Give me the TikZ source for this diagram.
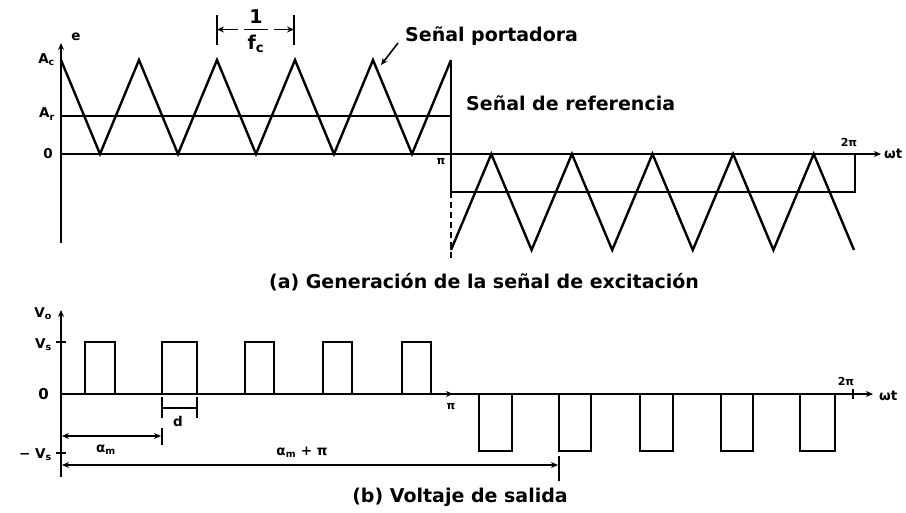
\documentclass[tikz,border=0pt]{standalone}
\usepackage{fontspec}
\setmainfont{DejaVu Sans}
\usetikzlibrary{arrows.meta}
\begin{document}
\begin{tikzpicture}[x=1pt,y=-1pt,
  wave/.style={line width=2.4pt, line join=miter},
  axisline/.style={line width=1.8pt},
  pulse/.style={line width=1.8pt, line join=miter},
  dim/.style={line width=1.6pt},
  lbl/.style={font=\bfseries\fontsize{19}{22}\selectfont, inner sep=0pt},
  sml/.style={font=\bfseries\fontsize{13.5}{16}\selectfont, inner sep=0pt},
  tiny/.style={font=\bfseries\fontsize{11}{13}\selectfont, inner sep=0pt},
  tip/.style={-{Stealth[length=7pt,width=6pt]}},
  tips/.style={{Stealth[length=7pt,width=6pt]}-{Stealth[length=7pt,width=6pt]}},
  ]
\useasboundingbox (0,0) rectangle (906,512);

% ===================== (a) top panel =====================
\coordinate (ay0) at (61,243);
\coordinate (ay1) at (61,43);
\coordinate (ax0) at (61,154);
\coordinate (ax1) at (881,154);
\draw[axisline,tip] (ay0) -- (ay1);
\draw[axisline,tip] (ax0) -- (ax1);

\node[sml] (le) at (76,37) {e};
\node[sml,anchor=east] (lac) at (55,60) {A$_{\mathbf c}$};
\node[sml,anchor=east] (lar) at (55,114) {A$_{\mathbf r}$};
\node[sml,anchor=east] (l0a) at (53,154) {0};
\node[tiny] (lpi) at (441,162) {π};
\node[tiny] (l2pi) at (849,143) {2π};
\node[sml,anchor=west] (lwt) at (884,154) {ωt};

% reference signal
\draw[axisline] (61,116) -- (451,116);
\draw[axisline] (451,192) -- (855,192) -- (855,154);

% carrier, first half
\draw[wave] (61,60)--(100,154)--(139,60)--(178,154)--(217,60)--(256,154)
  --(295,60)--(334,154)--(373,60)--(412,154)--(451,60);
% vertical at pi
\draw[axisline] (451,60) -- (451,192);
\draw[axisline,dashed,dash pattern=on 6pt off 4pt] (451,192) -- (451,258);
% carrier, second half
\draw[wave] (451,250)--(491.3,154)--(531.6,250)--(571.9,154)--(612.2,250)
  --(652.5,154)--(692.8,250)--(733.1,154)--(773.4,250)--(813.7,154)--(854,250);

% 1/fc
\coordinate (fb1a) at (217,15); \coordinate (fb1b) at (217,45);
\coordinate (fb2a) at (294,15); \coordinate (fb2b) at (294,45);
\draw[dim] (fb1a) -- (fb1b);
\draw[dim] (fb2a) -- (fb2b);
\node[lbl] (lone) at (256,17) {1};
\node[lbl] (lfc) at (256,44) {f$_{\mathbf c}$};
\draw[dim] (244,29.5) -- (268,29.5);
\coordinate (fl) at (238,29.5); \coordinate (fr) at (274,29.5);
\draw[dim,tip] (fl) -- (fb1a |- fl);
\draw[dim,tip] (fr) -- (fb2a |- fr);

% labels
\node[lbl,anchor=west] (lsp) at (405,36) {Señal portadora};
\coordinate (sptail) at (398,43);
\coordinate (sptip) at (381,65);
\draw[dim,tip] (sptail) -- (sptip);
\node[lbl,anchor=west] (lsr) at (466,103) {Señal de referencia};
\node[lbl] (capa) at (484,282) {(a) Generación de la señal de excitación};

% ===================== (b) bottom panel =====================
\coordinate (by0) at (61,477);
\coordinate (by1) at (61,310);
\coordinate (bx0) at (61,394);
\coordinate (bx1) at (873,394);
\draw[axisline,tip] (by0) -- (by1);
\draw[axisline,tip] (bx0) -- (bx1);
\draw[axisline] (56,342) -- (66,342);
\draw[axisline] (56,453) -- (66,453);
\draw[axisline] (853,389) -- (853,399);
\draw[line width=1.2pt,tip] (446,394) -- (453,394);

\node[sml,anchor=east] (lvo) at (52,314) {V$_{\mathbf o}$};
\node[sml,anchor=east] (lvs) at (52,345) {V$_{\mathbf s}$};
\node[font=\bfseries\fontsize{15}{17}\selectfont,inner sep=0pt,anchor=east] (l0b) at (49,394) {0};
\node[sml,anchor=east] (lmvs) at (52,455) {− V$_{\mathbf s}$};
\node[tiny] (lpib) at (451,407) {π};
\node[tiny] (l2pib) at (846,382) {2π};
\node[sml,anchor=west] (lwtb) at (879,396) {ωt};

% positive pulses
\foreach \a/\b in {85/115,162/197,245/274,323/352,402/431}
  \draw[pulse] (\a,394) -- (\a,342) -- (\b,342) -- (\b,394);
% negative pulses
\foreach \a/\b in {479/512,559/591,640/673,721/753,800/835}
  \draw[pulse] (\a,394) -- (\a,451) -- (\b,451) -- (\b,394);

% d
\coordinate (d1a) at (162,397); \coordinate (d1b) at (162,418);
\coordinate (d2a) at (197,397); \coordinate (d2b) at (197,418);
\draw[dim] (d1a) -- (d1b);
\draw[dim] (d2a) -- (d2b);
\draw[dim] (162,408) -- (197,408);
\node[sml] (ld) at (178,421) {d};

% alpha_m
\coordinate (am0) at (62,436);
\coordinate (am1) at (161,436);
\draw[dim] (162,428) -- (162,445);
\draw[dim,tips] (am0) -- (am1);
\node[sml] (lam) at (106,450) {α$_{\mathbf m}$};

% alpha_m + pi
\coordinate (ap0) at (62,465);
\coordinate (ap1) at (558,465);
\draw[dim] (559,456) -- (559,481);
\draw[dim,tips] (ap0) -- (ap1);
\node[sml] (lap) at (302,452) {α$_{\mathbf m}$ + π};

\node[lbl] (capb) at (460,497) {(b) Voltaje de salida};
\end{tikzpicture}
\end{document}
